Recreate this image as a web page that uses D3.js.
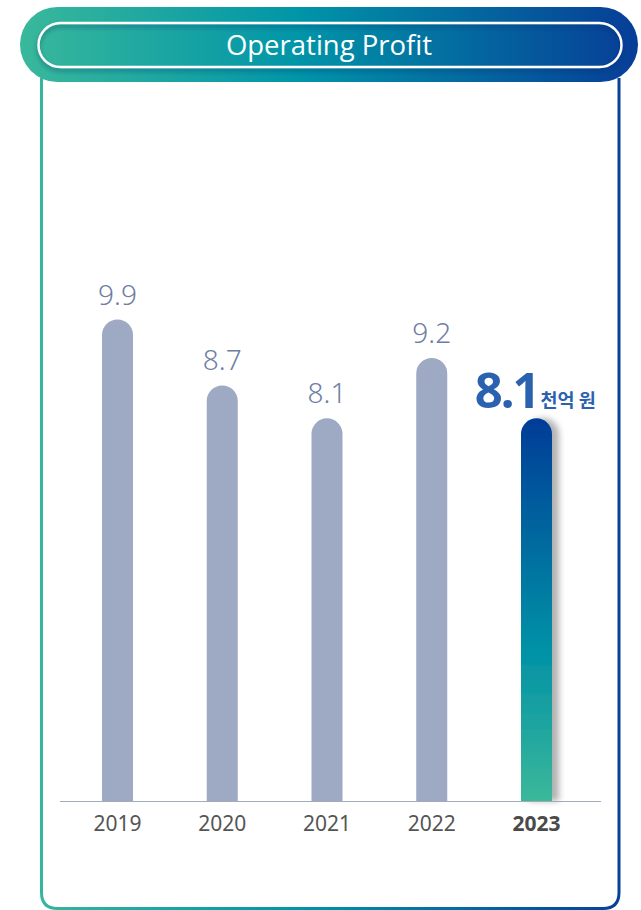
<!DOCTYPE html>
<html>
<head>
<meta charset="utf-8">
<script src="https://cdn.jsdelivr.net/npm/d3@7/dist/d3.min.js"></script>
<style>
  html, body { margin: 0; padding: 0; background: #fff; }
  svg { display: block; }
</style>
</head>
<body>
<div id="chart"></div>
<script>
// chart data
const years = ["2019", "2020", "2021", "2022", "2023"];
const values = [9.9, 8.7, 8.1, 9.2, 8.1];
const valueLabels = ["9.9", "8.7", "8.1", "9.2", "8.1"];
const title = "Operating Profit";
const unit = "천억 원";

const width = 641, height = 910;
const baseY = 801;

const svg = d3.select("#chart").append("svg")
    .attr("width", width)
    .attr("height", height);

const defs = svg.append("defs");

// horizontal gradient for header + frame
const hGrad = defs.append("linearGradient")
    .attr("id", "hgrad")
    .attr("gradientUnits", "userSpaceOnUse")
    .attr("x1", 20).attr("x2", 638).attr("y1", 0).attr("y2", 0);
hGrad.append("stop").attr("offset", "0%").attr("stop-color", "#39b89b");
hGrad.append("stop").attr("offset", "45%").attr("stop-color", "#0095a8");
hGrad.append("stop").attr("offset", "100%").attr("stop-color", "#073d97");

// vertical gradient for the highlighted bar
const vGrad = defs.append("linearGradient")
    .attr("id", "vgrad")
    .attr("x1", 0).attr("x2", 0).attr("y1", 0).attr("y2", 1);
vGrad.append("stop").attr("offset", "0%").attr("stop-color", "#063c97");
vGrad.append("stop").attr("offset", "60%").attr("stop-color", "#0091a6");
vGrad.append("stop").attr("offset", "100%").attr("stop-color", "#3bb89a");

const shadow = defs.append("filter").attr("id", "shadow")
    .attr("x", "-50%").attr("y", "-20%").attr("width", "200%").attr("height", "140%");
shadow.append("feDropShadow")
    .attr("dx", 7).attr("dy", 0).attr("stdDeviation", 3)
    .attr("flood-color", "#000").attr("flood-opacity", 0.3);

const pillShadow = defs.append("filter").attr("id", "pillshadow")
    .attr("x", "-10%").attr("y", "-50%").attr("width", "120%").attr("height", "200%");
pillShadow.append("feDropShadow")
    .attr("dx", 0).attr("dy", 3).attr("stdDeviation", 2)
    .attr("flood-color", "#002a60").attr("flood-opacity", 0.45);

// frame
const fl = 41.5, fr = 619, fb = 908.5, r = 16;
svg.append("path")
    .attr("d", `M${fl},78 L${fl},${fb - r} Q${fl},${fb} ${fl + r},${fb} L${fr - r},${fb} Q${fr},${fb} ${fr},${fb - r} L${fr},78`)
    .attr("fill", "none")
    .attr("stroke", "url(#hgrad)")
    .attr("stroke-width", 3);

// header pill
svg.append("rect")
    .attr("x", 20).attr("y", 7).attr("width", 618).attr("height", 75)
    .attr("rx", 37.5)
    .attr("fill", "url(#hgrad)");
svg.append("rect")
    .attr("x", 38.5).attr("y", 23).attr("width", 583).attr("height", 44)
    .attr("rx", 22)
    .attr("fill", "none")
    .attr("stroke", "#fff")
    .attr("stroke-width", 2.4)
    .attr("filter", "url(#pillshadow)");
svg.append("text")
    .attr("x", 329).attr("y", 45)
    .attr("dy", "0.36em")
    .attr("text-anchor", "middle")
    .attr("fill", "#fff")
    .style("font-family", "'Open Sans', 'Noto Sans', sans-serif")
    .style("font-size", "27.5px")
    .text(title);

// scales
const x = d3.scalePoint().domain(years).range([117.5, 536.5]);
const y = d3.scaleLinear().domain([1.13, 10]).range([baseY, baseY - 54.9 * 8.87]);
const barW = 31;

function barPath(cx, top) {
    const rr = barW / 2;
    const l = cx - rr, rt = cx + rr;
    return `M${l},${baseY} L${l},${top + rr} A${rr},${rr} 0 0 1 ${rt},${top + rr} L${rt},${baseY} Z`;
}

const bars = svg.append("g");
bars.selectAll("path")
    .data(years)
    .join("path")
    .attr("d", (d, i) => barPath(x(d), y(values[i])))
    .attr("fill", (d, i) => i === years.length - 1 ? "url(#vgrad)" : "#9ea9c3")
    .attr("filter", (d, i) => i === years.length - 1 ? "url(#shadow)" : null);

// axis line
svg.append("line")
    .attr("x1", 60).attr("x2", 601)
    .attr("y1", baseY + 0.5).attr("y2", baseY + 0.5)
    .attr("stroke", "#a3aab9")
    .attr("stroke-width", 1.2);

// year labels
svg.append("g").selectAll("text")
    .data(years)
    .join("text")
    .attr("x", d => x(d))
    .attr("y", 831)
    .attr("text-anchor", "middle")
    .attr("fill", (d, i) => i === years.length - 1 ? "#4a4a4a" : "#555")
    .style("font-family", "'Noto Sans', sans-serif")
    .style("font-size", "21px")
    .style("font-weight", (d, i) => i === years.length - 1 ? 700 : 400)
    .text(d => d);

// value labels (not highlighted)
svg.append("g").selectAll("text")
    .data(years.slice(0, -1))
    .join("text")
    .attr("x", d => x(d))
    .attr("y", (d, i) => y(values[i]) - 15)
    .attr("text-anchor", "middle")
    .attr("fill", "#6e7ea3")
    .style("font-family", "'Noto Sans', sans-serif")
    .style("font-size", "28px")
    .style("font-weight", 300)
    .text((d, i) => valueLabels[i]);

// highlighted label
const last = years.length - 1;
svg.append("text")
    .attr("x", x(years[last]) + 2)
    .attr("y", y(values[last]) - 10)
    .attr("text-anchor", "end")
    .attr("fill", "#2b62b0")
    .style("font-family", "'Noto Sans', sans-serif")
    .style("font-weight", 700)
    .style("font-size", "49px")
    .style("letter-spacing", "-2px")
    .text(valueLabels[last]);
svg.append("text")
    .attr("x", x(years[last]) + 4)
    .attr("y", y(values[last]) - 11)
    .attr("fill", "#2b62b0")
    .style("font-family", "'Noto Sans CJK KR', sans-serif")
    .style("font-weight", 700)
    .style("font-size", "18.5px")
    .text(unit);
</script>
</body>
</html>
